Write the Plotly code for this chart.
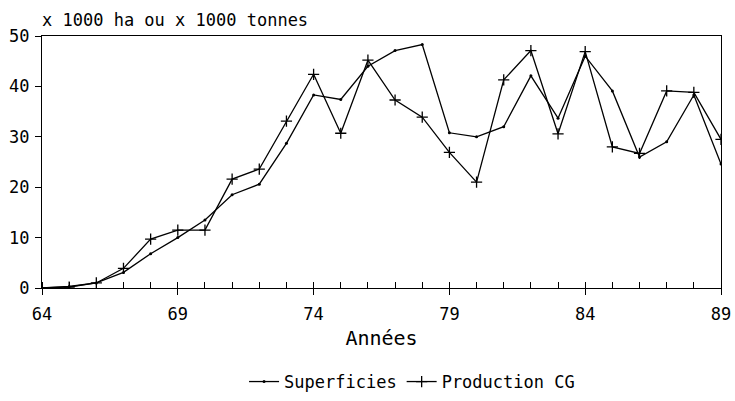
import plotly.graph_objects as go

years = list(range(64, 90))
superficies = [0, 0.3, 1.0, 3.1, 6.8, 10.0, 13.5, 18.5, 20.6, 28.7, 38.3, 37.4, 44.0,
               47.1, 48.3, 30.8, 30.0, 32.0, 42.1, 33.7, 46.0, 39.1, 26.0, 29.0, 38.3, 24.6]
production = [0, 0.2, 1.0, 3.9, 9.7, 11.5, 11.5, 21.6, 23.6, 33.1, 42.4, 30.7, 45.2,
              37.3, 33.9, 26.9, 21.0, 41.3, 47.1, 30.6, 46.9, 28.0, 26.7, 39.1, 38.8, 29.5]
major_ticks = [64, 69, 74, 79, 84, 89]
y_ticks = [0, 10, 20, 30, 40, 50]

FONT = "DejaVu Sans Mono"
fig = go.Figure()
fig.add_trace(go.Scatter(
    x=years, y=superficies, name="Superficies", mode="lines+markers",
    line=dict(color="black", width=1.3),
    marker=dict(symbol="circle", size=3, color="black"),
))
fig.add_trace(go.Scatter(
    x=years, y=production, name="Production CG", mode="lines+markers",
    line=dict(color="black", width=1.3),
    marker=dict(symbol="cross-thin", size=8, line=dict(color="black", width=1.3)),
))

fig.update_layout(
    width=735, height=401,
    margin=dict(l=42, r=14, t=36, b=113, autoexpand=False),
    paper_bgcolor="white", plot_bgcolor="white",
    font=dict(family=FONT, size=17, color="black"),
    showlegend=True,
    legend=dict(orientation="h", x=0.545, xanchor="center",
                yref="container", y=(401 - 382) / 401, yanchor="middle",
                font=dict(family=FONT, size=17, color="black"), bgcolor="rgba(0,0,0,0)",
                itemwidth=30),
    xaxis=dict(range=[64, 89], tickvals=major_ticks, ticktext=[str(t) for t in major_ticks],
               ticks="outside", ticklen=6, tickwidth=1.3, tickcolor="black",
               showline=True, linecolor="black", linewidth=1.3, mirror=True,
               showgrid=False, zeroline=False, ticklabelstandoff=4, automargin=False,
               minor=dict(dtick=1, tick0=64, ticks="inside", ticklen=6, tickwidth=1.3,
                          tickcolor="black", showgrid=False),
               title=dict(text="Années", standoff=8)),
    yaxis=dict(range=[0, 50], tickvals=y_ticks, ticks="outside", ticklen=6, tickwidth=1.3,
               tickcolor="black", showline=True, linecolor="black", linewidth=1.3,
               mirror=True, showgrid=False, zeroline=False, ticklabelstandoff=2,
               automargin=False),
    xaxis2=dict(range=[64, 89], overlaying="x", anchor="y", side="bottom",
                tickvals=major_ticks, ticks="inside", ticklen=6, tickwidth=1.3,
                tickcolor="black", showticklabels=False, showgrid=False,
                zeroline=False, showline=False),
    annotations=[dict(text="x 1000 ha ou x 1000 tonnes", xref="paper", yref="paper",
                      x=0, xanchor="left", xshift=-2, y=1 + 16 / 252, yanchor="middle",
                      showarrow=False, font=dict(family=FONT, size=17, color="black"))],
)
fig.write_html("out.html")
